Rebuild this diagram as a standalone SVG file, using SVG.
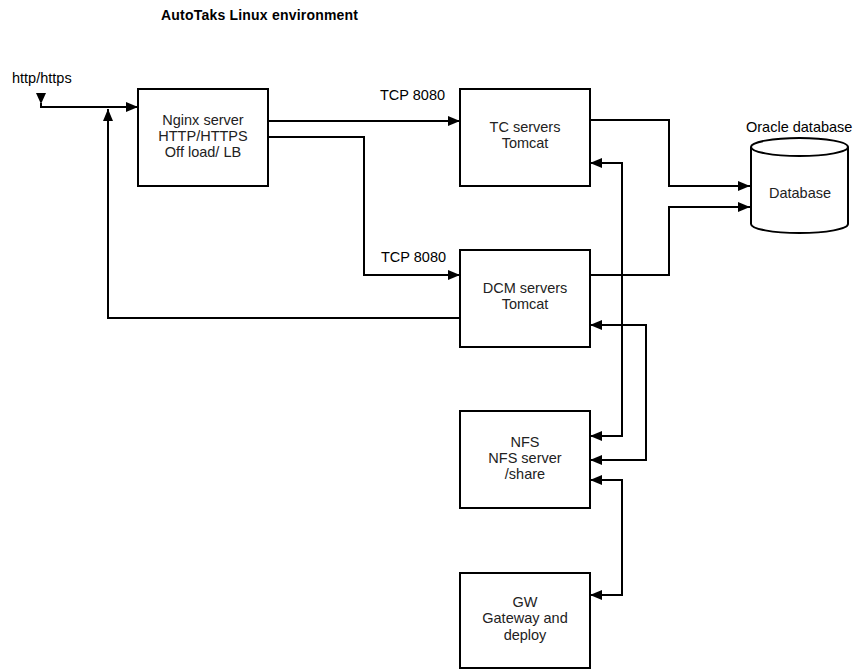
<svg xmlns="http://www.w3.org/2000/svg" width="855" height="669" viewBox="0 0 855 669">
<style>
.box{fill:#fff;stroke:#000;stroke-width:2}
.t{font-family:"Liberation Sans",Arial,sans-serif;font-size:14.5px;fill:#222;text-anchor:middle}
.l{font-family:"Liberation Sans",Arial,sans-serif;font-size:14.5px;fill:#000}
.c{fill:none;stroke:#000;stroke-width:2}
</style>
<defs>
<marker id="ah" viewBox="0 0 12 10" refX="12" refY="5" markerWidth="12" markerHeight="10" markerUnits="userSpaceOnUse" orient="auto-start-reverse">
<path d="M0,0 L12,5 L0,10 Z" fill="#000"/>
</marker>
</defs>
<rect width="855" height="669" fill="#fff"/>
<text x="161" y="20" font-family="Liberation Sans,Arial,sans-serif" font-size="14" font-weight="bold" textLength="197" lengthAdjust="spacing">AutoTaks Linux environment</text>
<text class="l" x="12" y="83">http/https</text>
<text class="l" x="380" y="100">TCP 8080</text>
<text class="l" x="381" y="262">TCP 8080</text>
<text class="l" x="746" y="132">Oracle database</text>
<g id="connectors">
<polygon points="36,93 46,93 41,104" fill="#000"/>
<path class="c" d="M41,103 V107 H138" marker-end="url(#ah)"/>
<path class="c" d="M460,318 H108 V109" marker-end="url(#ah)"/>
<path class="c" d="M268,121 H460" marker-end="url(#ah)"/>
<path class="c" d="M268,137 H364 V275 H460" marker-end="url(#ah)"/>
<path class="c" d="M590,120 H669 V186 H750" marker-end="url(#ah)"/>
<path class="c" d="M590,275 H669 V207 H750" marker-end="url(#ah)"/>
<path class="c" d="M590,436 H622 V163 H590" marker-start="url(#ah)" marker-end="url(#ah)"/>
<path class="c" d="M590,325 H646 V460 H590" marker-start="url(#ah)" marker-end="url(#ah)"/>
<path class="c" d="M590,480 H622 V595 H590" marker-start="url(#ah)" marker-end="url(#ah)"/>
</g>
<g id="nginx">
<rect class="box" x="138" y="89" width="130" height="97"/>
<text class="t" x="203" y="125">Nginx server</text>
<text class="t" x="203" y="141">HTTP/HTTPS</text>
<text class="t" x="203" y="157">Off load/ LB</text>
</g>
<g id="tc">
<rect class="box" x="460" y="89" width="130" height="97"/>
<text class="t" x="525" y="132">TC servers</text>
<text class="t" x="525" y="148">Tomcat</text>
</g>
<g id="dcm">
<rect class="box" x="460" y="250" width="130" height="97"/>
<text class="t" x="525" y="293">DCM servers</text>
<text class="t" x="525" y="309">Tomcat</text>
</g>
<g id="nfs">
<rect class="box" x="460" y="411" width="130" height="97"/>
<text class="t" x="525" y="447">NFS</text>
<text class="t" x="525" y="463">NFS server</text>
<text class="t" x="525" y="479">/share</text>
</g>
<g id="gw">
<rect class="box" x="460" y="573" width="130" height="95"/>
<text class="t" x="525" y="607">GW</text>
<text class="t" x="525" y="623">Gateway and</text>
<text class="t" x="525" y="640">deploy</text>
</g>
<g id="db">
<path class="box" d="M751,147 V224 A48.5,9 0 0 0 848,224 V147 A48.5,9 0 0 0 751,147 A48.5,9 0 0 0 848,147"/>
<text class="t" x="800" y="198">Database</text>
</g>
</svg>
